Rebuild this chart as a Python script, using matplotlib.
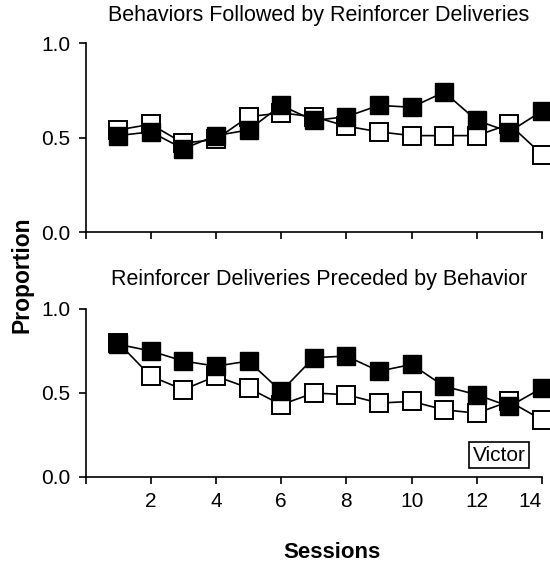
import matplotlib.pyplot as plt

plt.rcParams['font.family'] = ['Liberation Sans', 'DejaVu Sans']

sessions = list(range(1, 15))

# top panel: behaviors followed by reinforcer deliveries
top_filled = [0.51, 0.53, 0.44, 0.51, 0.54, 0.67, 0.59, 0.61, 0.67, 0.66, 0.74, 0.59, 0.53, 0.64]
top_open = [0.54, 0.57, 0.47, 0.49, 0.61, 0.63, 0.61, 0.56, 0.53, 0.51, 0.51, 0.51, 0.57, 0.41]

# bottom panel: reinforcer deliveries preceded by behavior
bot_filled = [0.79, 0.75, 0.69, 0.66, 0.69, 0.51, 0.71, 0.72, 0.63, 0.67, 0.54, 0.49, 0.42, 0.53]
bot_open = [0.80, 0.60, 0.52, 0.60, 0.53, 0.43, 0.50, 0.49, 0.44, 0.45, 0.40, 0.38, 0.45, 0.34]

titles = ["Behaviors Followed by Reinforcer Deliveries",
          "Reinforcer Deliveries Preceded by Behavior"]
xticks = [0, 2, 4, 6, 8, 10, 12, 14]
xticklabels = ["", "2", "4", "6", "8", "10", "12", "14"]
yticks = [0.0, 0.5, 1.0]

fig = plt.figure(figsize=(5.5, 5.71), dpi=100)
W, H = 550, 571
# axes boxes in pixels: left, top, right, bottom, title centre y
boxes = [(85.5, 43, 542, 232, 16), (85.5, 309, 542, 477, 279)]
panels = [(top_open, top_filled), (bot_open, bot_filled)]

for (l, t, r, b, ty), (op, fi), title in zip(boxes, panels, titles):
    ax = fig.add_axes([l / W, 1 - b / H, (r - l) / W, (b - t) / H])
    ax.plot(sessions, op, '-s', color='black', lw=1.2, ms=12.5,
            mfc='white', mec='black', mew=1.4, clip_on=False)
    ax.plot(sessions, fi, '-s', color='black', lw=1.2, ms=12.5,
            mfc='black', mec='black', mew=1.0, clip_on=False)
    ax.set_xlim(0, 14)
    ax.set_ylim(0, 1.0)
    ax.set_xticks(xticks)
    ax.set_yticks(yticks)
    ax.set_yticklabels(["0.0", "0.5", "1.0"])
    ax.spines['top'].set_visible(False)
    ax.spines['right'].set_visible(False)
    ax.spines['left'].set_linewidth(1.2)
    ax.spines['bottom'].set_linewidth(1.2)
    ax.tick_params(direction='out', length=5, width=1.2, labelsize=15, pad=6)
    fig.text(319 / W, 1 - ty / H, title, fontsize=15.5, ha='center', va='center')
    if t > 100:
        ax.set_xticklabels(xticklabels)
        ax.get_xticklabels()[-1].set_horizontalalignment('right')
        ax.text(12.68, 0.13, "Victor", fontsize=15, ha='center', va='center',
                bbox=dict(boxstyle='square,pad=0.18', fc='white', ec='black', lw=1.2))
    else:
        ax.set_xticklabels([""] * len(xticks))

fig.text(22 / W, 1 - 275 / H, "Proportion", rotation=90, fontsize=16.5,
         fontweight='bold', ha='center', va='center')
fig.text(332 / W, 1 - 553 / H, "Sessions", fontsize=16,
         fontweight='bold', ha='center', va='center')

fig.savefig("out.png", dpi=100)
